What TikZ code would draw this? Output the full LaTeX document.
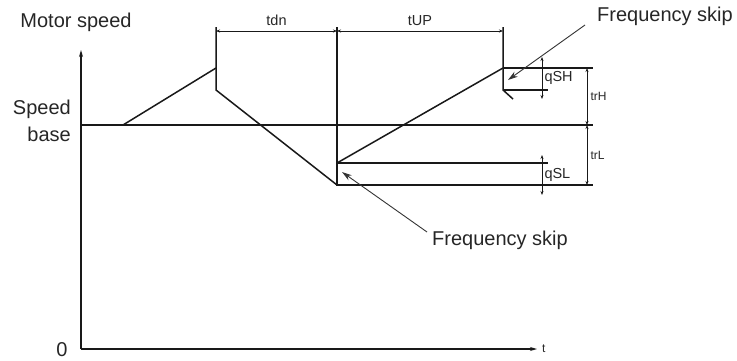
\documentclass[tikz,border=0pt]{standalone}
\usepackage{fontspec}
\setmainfont{Liberation Sans}
\usetikzlibrary{arrows.meta}

\begin{document}
\begin{tikzpicture}[
  x=1pt, y=-1pt,
  font=\fontsize{20}{27}\selectfont,
  curve/.style={line width=1.5pt, black!90},
  axis/.style={line width=1.3pt, black!90, -{Stealth[length=7pt, width=4pt]}},
  dim/.style={line width=1pt, black!90,
    {Stealth[length=4pt, width=3pt]}-{Stealth[length=4pt, width=3pt]}},
  lead/.style={line width=0.9pt, black!80, -{Stealth[length=10pt, width=6pt]}},
  lbl/.style={inner sep=0pt, text=black!85},
  sm/.style={lbl, font=\fontsize{14.5}{16}\selectfont},
  tiny/.style={lbl, font=\fontsize{12}{14}\selectfont},
]
  \useasboundingbox (0,0) rectangle (737,360);

  \coordinate (org) at (81,349);
  \coordinate (ytop) at (81,50);
  \coordinate (xend) at (537,349);
  \coordinate (base0) at (81,125);
  \coordinate (base1) at (593,125);

  \coordinate (acc0) at (123,125);
  \coordinate (acc1) at (216,68);
  \coordinate (dec0) at (216,90);
  \coordinate (dec1) at (337,185);
  \coordinate (acc2) at (337,163);
  \coordinate (acc3) at (503,68);
  \coordinate (hop0) at (503,90);
  \coordinate (hop1) at (513,99);
  \coordinate (ext1) at (216,27);
  \coordinate (ext2) at (337,27);
  \coordinate (ext3) at (503,27);
  \coordinate (lowEnd) at (593,185);
  \coordinate (lowSkip) at (548,163);
  \coordinate (highEnd) at (593,68);
  \coordinate (highSkip) at (548,90);

  \draw[axis] (org) -- (ytop);
  \draw[axis] (org) -- (xend);
  \draw[curve] (base0) -- (base1);

  \draw[curve] (acc0) -- (acc1);
  \draw[curve] (ext1) -- (dec0) -- (dec1);
  \draw[curve] (ext2) -- (dec1) -- (lowEnd);
  \draw[curve] (acc2) -- (lowSkip);
  \draw[curve] (acc2) -- (acc3);
  \draw[curve] (ext3) -- (hop0) -- (hop1);
  \draw[curve] (acc3) -- (highEnd);
  \draw[curve] (hop0) -- (highSkip);

  \coordinate (tdn0) at (216,31);
  \coordinate (tdn1) at (337,31);
  \coordinate (tup1) at (503,31);
  \draw[dim] (tdn0) -- (tdn1) node[sm, above=5pt, midway] (tdnlab) {tdn};
  \draw[dim] (tdn1) -- (tup1) node[sm, above=5pt, midway] (tuplab) {tUP};

  \coordinate (qsh0) at (542,57);
  \coordinate (qsh1) at (542,99);
  \coordinate (qsl0) at (542,155);
  \coordinate (qsl1) at (542,195);
  \draw[dim] (qsh0) -- (qsh1) node[sm, right=2pt, midway] (qshlab) {qSH};
  \draw[dim] (qsl0) -- (qsl1) node[sm, right=2pt, midway] (qsllab) {qSL};

  \coordinate (trh0) at (587,68);
  \coordinate (trm) at (587,125);
  \coordinate (trl1) at (587,185);
  \draw[dim] (trh0) -- (trm) node[tiny, right=3pt, midway] (trhlab) {trH};
  \draw[dim] (trm) -- (trl1) node[tiny, right=3pt, midway] (trllab) {trL};

  \node[lbl] (motor) at (76,22) {Motor speed};
  \node[lbl, align=right, anchor=east] (sbase) at (71,121) {Speed\\base};
  \node[lbl] (zero) at (62,350) {0};
  \node[tiny, anchor=west] (tlab) at (542,349) {t};

  \node[lbl, anchor=west] (fsH) at (597,16) {Frequency skip};
  \node[lbl, anchor=west] (fsL) at (432,240) {Frequency skip};
  \coordinate (skipH) at (508,80);
  \coordinate (skipL) at (342,172);
  \draw[lead] ([xshift=-12pt, yshift=-9pt]fsH.west) -- (skipH);
  \draw[lead] ([xshift=-5pt, yshift=8pt]fsL.west) -- (skipL);
\end{tikzpicture}
\end{document}
